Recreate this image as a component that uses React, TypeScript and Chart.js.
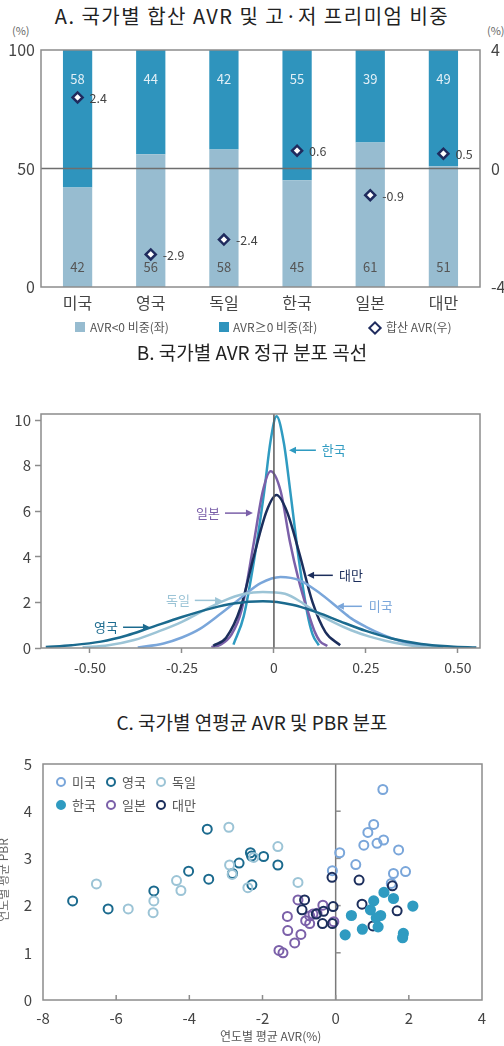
import React, { useEffect, useRef } from "react";
import { Chart, registerables } from "chart.js";

Chart.register(...registerables);

const FONT = '"Noto Sans CJK KR", "Noto Sans", sans-serif';
Chart.defaults.font.family = FONT;
Chart.defaults.color = "#555";

// ---------------- Panel A data ----------------
const countries = ["미국", "영국", "독일", "한국", "일본", "대만"];
const negShare = [42, 56, 58, 45, 61, 51];
const posShare = [58, 44, 42, 55, 39, 49];
const combinedAvr = [2.4, -2.9, -2.4, 0.6, -0.9, 0.5];
const shareTicks = [0, 50, 100];
const avrTicks = [-4, 0, 4];

// ---------------- Panel B data ----------------
const densityXTicks = [-0.5, -0.25, 0, 0.25, 0.5];
const densityYTicks = [0, 2, 4, 6, 8, 10];
const curveUK: [number, number][] = [
  [-0.62, 0.04], [-0.55, 0.12], [-0.47, 0.28], [-0.4, 0.55], [-0.34, 0.87], [-0.25, 1.36],
  [-0.17, 1.74], [-0.11, 1.95], [-0.03, 2.05], [0.05, 1.9], [0.12, 1.55], [0.18, 1.17],
  [0.25, 0.75], [0.32, 0.42], [0.4, 0.18], [0.48, 0.07], [0.55, 0.02],
];
const curveDE: [number, number][] = [
  [-0.52, 0.03], [-0.45, 0.12], [-0.38, 0.35], [-0.31, 0.75], [-0.25, 1.15], [-0.19, 1.65],
  [-0.14, 2.05], [-0.08, 2.38], [-0.03, 2.46], [0.03, 2.38], [0.08, 1.95], [0.12, 1.5],
  [0.16, 1.15], [0.21, 0.78], [0.26, 0.5], [0.3, 0.33], [0.35, 0.16], [0.39, 0.07], [0.46, 0.02],
];
const curveUS: [number, number][] = [
  [-0.37, 0.02], [-0.3, 0.2], [-0.25, 0.46], [-0.2, 0.85], [-0.145, 1.5], [-0.09, 2.2],
  [-0.036, 2.85], [0.018, 3.12], [0.07, 2.97], [0.125, 2.4], [0.175, 1.75], [0.21, 1.3],
  [0.25, 0.93], [0.3, 0.55], [0.34, 0.32], [0.38, 0.15], [0.42, 0.05],
];
const curveTW: [number, number][] = [
  [-0.165, 0.1], [-0.13, 0.45], [-0.09, 1.8], [-0.055, 4.0], [-0.02, 6.0], [0.007, 6.71],
  [0.035, 6.0], [0.07, 4.1], [0.105, 2.0], [0.14, 0.7], [0.18, 0.12],
];
const curveJP: [number, number][] = [
  [-0.17, 0.04], [-0.145, 0.15], [-0.115, 0.6], [-0.088, 1.66], [-0.056, 4.5], [-0.03, 6.9],
  [-0.009, 7.76], [0.018, 6.9], [0.043, 4.7], [0.067, 3.0], [0.091, 1.66], [0.11, 0.75],
  [0.125, 0.3], [0.145, 0.09],
];
const curveKR: [number, number][] = [
  [-0.11, 0.15], [-0.082, 1.4], [-0.054, 3.85], [-0.027, 6.8], [-0.009, 9.1], [0.007, 10.17],
  [0.027, 9.0], [0.045, 6.8], [0.068, 3.85], [0.091, 1.5], [0.105, 0.6], [0.122, 0.12],
];

// ---------------- Panel C data ----------------
const scatterUS: [number, number][] = [
  [1.29, 4.46], [1.04, 3.72], [0.88, 3.55], [0.77, 3.28], [1.13, 3.32], [1.31, 3.39], [1.72, 3.18],
  [0.11, 3.12], [0.55, 2.87], [-0.09, 2.74], [1.58, 2.68], [1.91, 2.72], [1.52, 2.47],
];
const scatterUK: [number, number][] = [
  [-7.19, 2.1], [-6.22, 1.93], [-4.97, 2.31], [-4.02, 2.73], [-3.51, 3.62], [-3.47, 2.56], [-2.82, 2.68],
  [-2.64, 2.9], [-2.33, 3.12], [-2.3, 3.05], [-1.97, 3.04], [-1.58, 2.86], [-2.29, 2.44],
];
const scatterDE: [number, number][] = [
  [-6.54, 2.46], [-5.67, 1.93], [-4.97, 2.1], [-4.99, 1.85], [-4.35, 2.53], [-4.23, 2.32], [-2.92, 3.66],
  [-2.9, 2.86], [-2.83, 2.66], [-2.4, 2.38], [-2.24, 3.02], [-1.58, 3.25], [-1.03, 2.49],
];
const scatterKR: [number, number][] = [
  [1.32, 2.28], [1.58, 2.15], [1.04, 2.1], [2.11, 1.99], [0.95, 1.91], [0.43, 1.79], [1.23, 1.79],
  [1.11, 1.74], [1.16, 1.55], [0.73, 1.5], [0.26, 1.38], [1.85, 1.41], [1.83, 1.32],
];
const scatterJP: [number, number][] = [
  [-1.03, 2.12], [-1.32, 1.77], [-1.31, 1.47], [-0.95, 1.39], [-1.12, 1.21], [-1.55, 1.05], [-1.44, 1.0],
  [-0.82, 1.68], [-0.71, 1.78], [-0.71, 1.62], [-0.62, 1.82], [-0.51, 1.84], [-0.35, 2.01], [-0.05, 1.66],
];
const scatterTW: [number, number][] = [
  [-0.85, 2.12], [-0.92, 1.91], [-0.53, 1.82], [-0.33, 1.88], [-0.36, 1.62], [-0.07, 1.98], [-0.09, 1.62],
  [-0.1, 2.6], [0.64, 2.54], [1.55, 2.42], [0.72, 2.03], [1.68, 1.89], [1.02, 1.57],
];

// ---------------- styles ----------------
const C_NEG = "#97bcd0";
const C_POS = "#2f94bd";
const C_DIAMOND = "#1f2b5e";
const C_US = "#7aa6da";
const C_UK = "#1b6a8e";
const C_DE = "#9cc4d6";
const C_KR = "#2f9bc1";
const C_JP = "#7b60a9";
const C_TW = "#1c2e5c";
const FRAME = "#8c8c8c";

const curveLabels = [
  { text: "한국", color: C_KR, tx: 0.13, ty: 8.68, align: "left", from: 0.114, to: 0.041 },
  { text: "일본", color: C_JP, tx: -0.147, ty: 5.92, align: "right", from: -0.133, to: -0.057 },
  { text: "대만", color: C_TW, tx: 0.177, ty: 3.19, align: "left", from: 0.16, to: 0.09 },
  { text: "미국", color: C_US, tx: 0.258, ty: 1.83, align: "left", from: 0.239, to: 0.171 },
  { text: "독일", color: C_DE, tx: -0.228, ty: 2.09, align: "right", from: -0.215, to: -0.141 },
  { text: "영국", color: C_UK, tx: -0.424, ty: 0.91, align: "right", from: -0.41, to: -0.337 },
];

const noPad = (s: any) => {
  s.paddingTop = 0;
  s.paddingBottom = 0;
  s.paddingLeft = 0;
  s.paddingRight = 0;
};

const frame = {
  id: "frame",
  afterDraw(chart: any) {
    const { left, top, right, bottom } = chart.chartArea;
    const ctx = chart.ctx;
    ctx.save();
    ctx.strokeStyle = FRAME;
    ctx.lineWidth = 1.5;
    ctx.strokeRect(left, top, right - left, bottom - top);
    ctx.restore();
  },
};

function makeA(canvas: HTMLCanvasElement) {
  const labelsPlugin = {
    id: "aLabels",
    afterDatasetsDraw(chart: any) {
      const ctx = chart.ctx;
      const { left, right, top, bottom } = chart.chartArea;
      const y = chart.scales.y;
      ctx.save();
      const y50 = y.getPixelForValue(50);
      ctx.strokeStyle = "#6e6e6e";
      ctx.lineWidth = 1.5;
      ctx.beginPath();
      ctx.moveTo(left, y50);
      ctx.lineTo(right, y50);
      ctx.stroke();
      ctx.font = `13px ${FONT}`;
      ctx.textAlign = "center";
      ctx.textBaseline = "middle";
      chart.getDatasetMeta(1).data.forEach((el: any, i: number) => {
        ctx.fillStyle = "#555";
        ctx.fillText(String(negShare[i]), el.x, bottom - 20);
      });
      chart.getDatasetMeta(2).data.forEach((el: any, i: number) => {
        ctx.fillStyle = "#e2eff6";
        ctx.fillText(String(posShare[i]), el.x, top + 29);
      });
      ctx.textAlign = "left";
      ctx.fillStyle = "#444";
      ctx.font = `12.5px ${FONT}`;
      chart.getDatasetMeta(0).data.forEach((el: any, i: number) => {
        ctx.fillText(combinedAvr[i].toFixed(1), el.x + 12, el.y + 1);
      });
      ctx.restore();
    },
  };
  return new Chart(canvas, {
    type: "bar",
    data: {
      labels: countries,
      datasets: [
        {
          type: "line",
          label: "합산 AVR(우)",
          data: combinedAvr,
          yAxisID: "y1",
          showLine: false,
          pointStyle: "rectRot",
          pointRadius: 5,
          pointBorderWidth: 2.5,
          pointBackgroundColor: "#fff",
          pointBorderColor: C_DIAMOND,
          order: 0,
        } as any,
        {
          label: "AVR<0 비중(좌)",
          data: negShare,
          backgroundColor: C_NEG,
          yAxisID: "y",
          stack: "s",
          barPercentage: 0.4,
          categoryPercentage: 1,
          order: 1,
        },
        {
          label: "AVR≥0 비중(좌)",
          data: posShare,
          backgroundColor: C_POS,
          yAxisID: "y",
          stack: "s",
          barPercentage: 0.4,
          categoryPercentage: 1,
          order: 2,
        },
      ],
    },
    options: {
      animation: false,
      responsive: false,
      maintainAspectRatio: false,
      layout: { padding: { top: 10, left: 0, right: 0, bottom: 0 } },
      plugins: { legend: { display: false }, tooltip: { enabled: false } },
      scales: {
        x: {
          stacked: true,
          grid: { display: false, drawTicks: false },
          border: { display: false },
          ticks: { padding: 6, font: { size: 16 }, color: "#444" },
          afterFit: (s: any) => { s.height = 33; noPad(s); },
        },
        y: {
          stacked: true,
          min: 0,
          max: 100,
          afterBuildTicks: (s: any) => { s.ticks = shareTicks.map((v) => ({ value: v })); },
          grid: { display: false, drawTicks: false },
          border: { display: false },
          ticks: { padding: 6, font: { size: 16 }, color: "#444" },
          afterFit: (s: any) => { s.width = 41; noPad(s); },
        },
        y1: {
          position: "right",
          min: -4,
          max: 4,
          afterBuildTicks: (s: any) => { s.ticks = avrTicks.map((v) => ({ value: v })); },
          grid: { display: false, drawTicks: false },
          border: { display: false },
          ticks: { padding: 11, font: { size: 16 }, color: "#444" },
          afterFit: (s: any) => { s.width = 24; noPad(s); },
        },
      },
    } as any,
    plugins: [labelsPlugin, frame],
  });
}

function makeB(canvas: HTMLCanvasElement) {
  const curves = [
    { name: "영국", pts: curveUK, color: C_UK },
    { name: "독일", pts: curveDE, color: C_DE },
    { name: "미국", pts: curveUS, color: C_US },
    { name: "대만", pts: curveTW, color: C_TW },
    { name: "일본", pts: curveJP, color: C_JP },
    { name: "한국", pts: curveKR, color: C_KR },
  ];
  const annot = {
    id: "annot",
    afterDatasetsDraw(chart: any) {
      const ctx = chart.ctx;
      const xs = chart.scales.x;
      const ys = chart.scales.y;
      const { top, bottom } = chart.chartArea;
      ctx.save();
      const x0 = xs.getPixelForValue(0);
      ctx.strokeStyle = "#5a5a5a";
      ctx.lineWidth = 1.5;
      ctx.beginPath();
      ctx.moveTo(x0, top);
      ctx.lineTo(x0, bottom);
      ctx.stroke();
      ctx.font = `13px ${FONT}`;
      ctx.textBaseline = "middle";
      curveLabels.forEach((l) => {
        const py = ys.getPixelForValue(l.ty);
        ctx.fillStyle = l.color;
        ctx.textAlign = l.align as CanvasTextAlign;
        ctx.fillText(l.text, xs.getPixelForValue(l.tx), py);
        const a = xs.getPixelForValue(l.from);
        const b = xs.getPixelForValue(l.to);
        const dir = b > a ? 1 : -1;
        ctx.strokeStyle = l.color;
        ctx.lineWidth = 1.5;
        ctx.beginPath();
        ctx.moveTo(a, py);
        ctx.lineTo(b - dir * 4, py);
        ctx.stroke();
        ctx.beginPath();
        ctx.moveTo(b, py);
        ctx.lineTo(b - dir * 7, py - 3.5);
        ctx.lineTo(b - dir * 7, py + 3.5);
        ctx.closePath();
        ctx.fill();
      });
      ctx.restore();
    },
  };
  return new Chart(canvas, {
    type: "line",
    data: {
      datasets: curves.map((c) => ({
        label: c.name,
        data: c.pts.map(([x, y]) => ({ x, y })),
        borderColor: c.color,
        borderWidth: 2.5,
        pointRadius: 0,
        fill: false,
        cubicInterpolationMode: "monotone",
      })) as any,
    },
    options: {
      animation: false,
      responsive: false,
      maintainAspectRatio: false,
      layout: { padding: { top: 9, right: 24, left: 0, bottom: 0 } },
      plugins: { legend: { display: false }, tooltip: { enabled: false } },
      scales: {
        x: {
          type: "linear",
          min: -0.633,
          max: 0.56,
          afterBuildTicks: (s: any) => { s.ticks = densityXTicks.map((v) => ({ value: v })); },
          grid: { drawOnChartArea: false, tickLength: 5, tickColor: FRAME, tickWidth: 1.5 },
          border: { display: false },
          ticks: {
            padding: 6,
            font: { size: 14 },
            color: "#444",
            callback: (v: any) => (Number(v) === 0 ? "0" : Number(v).toFixed(2)),
          },
          afterFit: (s: any) => { s.height = 32; noPad(s); },
        },
        y: {
          min: 0,
          max: 10.27,
          afterBuildTicks: (s: any) => { s.ticks = densityYTicks.map((v) => ({ value: v })); },
          grid: { drawOnChartArea: false, tickLength: 6, tickColor: FRAME, tickWidth: 1.5 },
          border: { display: false },
          ticks: { padding: 4, font: { size: 15 }, color: "#444" },
          afterFit: (s: any) => { s.width = 41; noPad(s); },
        },
      },
    } as any,
    plugins: [annot, frame],
  });
}

function makeC(canvas: HTMLCanvasElement) {
  const sets = [
    { name: "한국", pts: scatterKR, color: C_KR, filled: true, order: 0 },
    { name: "대만", pts: scatterTW, color: C_TW, filled: false, order: 1 },
    { name: "일본", pts: scatterJP, color: C_JP, filled: false, order: 2 },
    { name: "미국", pts: scatterUS, color: C_US, filled: false, order: 3 },
    { name: "독일", pts: scatterDE, color: C_DE, filled: false, order: 4 },
    { name: "영국", pts: scatterUK, color: C_UK, filled: false, order: 5 },
  ];
  const zero = {
    id: "zero",
    beforeDatasetsDraw(chart: any) {
      const ctx = chart.ctx;
      const xs = chart.scales.x;
      const ys = chart.scales.y;
      const { top, bottom } = chart.chartArea;
      const x0 = xs.getPixelForValue(0);
      ctx.save();
      ctx.strokeStyle = "#7a7a7a";
      ctx.lineWidth = 1.5;
      ctx.beginPath();
      ctx.moveTo(x0, top);
      ctx.lineTo(x0, bottom);
      ctx.stroke();
      ctx.strokeStyle = FRAME;
      ys.ticks.forEach((t: any) => {
        if (t.value <= 0 || t.value >= 5) return;
        const py = ys.getPixelForValue(t.value);
        ctx.beginPath();
        ctx.moveTo(x0, py);
        ctx.lineTo(x0 + 5, py);
        ctx.stroke();
      });
      xs.ticks.forEach((t: any) => {
        if (t.value <= -8 || t.value >= 4) return;
        const px = xs.getPixelForValue(t.value);
        ctx.beginPath();
        ctx.moveTo(px, bottom);
        ctx.lineTo(px, bottom - 5);
        ctx.stroke();
      });
      ctx.restore();
    },
  };
  return new Chart(canvas, {
    type: "scatter",
    data: {
      datasets: sets.map((s) => ({
        label: s.name,
        data: s.pts.map(([x, y]) => ({ x, y })),
        borderColor: s.color,
        backgroundColor: s.filled ? s.color : "rgba(255,255,255,0)",
        pointRadius: s.filled ? 4.6 : 4.5,
        pointBorderWidth: 2,
        order: s.order,
      })) as any,
    },
    options: {
      animation: false,
      responsive: false,
      maintainAspectRatio: false,
      layout: { padding: { top: 14, right: 22, left: 0, bottom: 0 } },
      plugins: { legend: { display: false }, tooltip: { enabled: false } },
      scales: {
        x: {
          type: "linear",
          min: -8,
          max: 4,
          ticks: { stepSize: 2, padding: 9, font: { size: 15 }, color: "#444" },
          grid: { display: false, drawTicks: false },
          border: { display: false },
          afterFit: (s: any) => { s.height = 46; noPad(s); },
        },
        y: {
          min: 0,
          max: 5,
          ticks: { stepSize: 1, padding: 11, font: { size: 15 }, color: "#444" },
          grid: { display: false, drawTicks: false },
          border: { display: false },
          afterFit: (s: any) => { s.width = 43; noPad(s); },
        },
      },
    } as any,
    plugins: [zero, frame],
  });
}

function ChartCanvas({ top, height, make }: { top: number; height: number; make: (c: HTMLCanvasElement) => Chart }) {
  const ref = useRef<HTMLCanvasElement>(null);
  useEffect(() => {
    const chart = make(ref.current as HTMLCanvasElement);
    return () => chart.destroy();
  }, []);
  return (
    <canvas
      ref={ref}
      width={504}
      height={height}
      style={{ position: "absolute", left: 0, top, width: 504, height, display: "block" }}
    />
  );
}

const textBase: React.CSSProperties = { position: "absolute", fontFamily: FONT, whiteSpace: "nowrap" };

function Title({ y, text, size = 19, spacing = 0 }: { y: number; text: string; size?: number; spacing?: number }) {
  return (
    <div
      style={{
        ...textBase,
        left: 0,
        width: 504,
        top: y - 12,
        height: 24,
        lineHeight: "24px",
        textAlign: "center",
        fontSize: size,
        letterSpacing: spacing,
        color: "#222",
      }}
    >
      {text}
    </div>
  );
}

function Label({ x, y, text, size = 12, color = "#555" }: { x: number; y: number; text: string; size?: number; color?: string }) {
  return (
    <div style={{ ...textBase, left: x, top: y - 10, height: 20, lineHeight: "20px", fontSize: size, color }}>{text}</div>
  );
}

function Circle({ x, y, color, filled }: { x: number; y: number; color: string; filled: boolean }) {
  return (
    <div
      style={{
        position: "absolute",
        left: x - 5,
        top: y - 5,
        width: 6,
        height: 6,
        borderRadius: "50%",
        border: `2px solid ${color}`,
        background: filled ? color : "transparent",
      }}
    />
  );
}

export default function App() {
  return (
    <div style={{ position: "absolute", left: 0, top: 0, width: 504, height: 1046, background: "#fff", overflow: "hidden" }}>
      <Title y={16} text="A. 국가별 합산 AVR 및 고·저 프리미엄 비중" size={20} spacing={1.5} />
      <Label x={12} y={30} text="(%)" size={11} color="#666" />
      <Label x={487} y={30} text="(%)" size={11} color="#666" />
      <ChartCanvas top={40} height={280} make={makeA} />
      <div style={{ position: "absolute", left: 75, top: 322, width: 10, height: 10, background: C_NEG }} />
      <Label x={90} y={327} text="AVR<0 비중(좌)" />
      <div style={{ position: "absolute", left: 219, top: 322, width: 10, height: 10, background: C_POS }} />
      <Label x={233} y={327} text="AVR≥0 비중(좌)" />
      <div
        style={{
          position: "absolute",
          left: 370,
          top: 322.5,
          width: 6,
          height: 6,
          border: `2px solid ${C_DIAMOND}`,
          background: "#fff",
          transform: "rotate(45deg)",
        }}
      />
      <Label x={386} y={327} text="합산 AVR(우)" />

      <Title y={352} text="B. 국가별 AVR 정규 분포 곡선" />
      <ChartCanvas top={405} height={275} make={makeB} />

      <Title y={722} text="C. 국가별 연평균 AVR 및 PBR 분포" />
      <ChartCanvas top={750} height={296} make={makeC} />
      <Circle x={61} y={782} color={C_US} filled={false} />
      <Label x={72} y={782} text="미국" size={13} />
      <Circle x={111} y={782} color={C_UK} filled={false} />
      <Label x={122} y={782} text="영국" size={13} />
      <Circle x={161} y={782} color={C_DE} filled={false} />
      <Label x={172} y={782} text="독일" size={13} />
      <Circle x={61} y={805} color={C_KR} filled={true} />
      <Label x={72} y={805} text="한국" size={13} />
      <Circle x={111} y={805} color={C_JP} filled={false} />
      <Label x={122} y={805} text="일본" size={13} />
      <Circle x={161} y={805} color={C_TW} filled={false} />
      <Label x={172} y={805} text="대만" size={13} />
      <div style={{ ...textBase, left: 220, top: 1026, height: 20, lineHeight: "20px", fontSize: 12, color: "#555", width: 92, textAlign: "center" }}>
        연도별 평균 AVR(%)
      </div>
      <div
        style={{
          ...textBase,
          left: 3 - 50,
          top: 880 - 10,
          width: 100,
          height: 20,
          lineHeight: "20px",
          fontSize: 12,
          color: "#666",
          textAlign: "center",
          transform: "rotate(-90deg)",
        }}
      >
        연도별 평균 PBR
      </div>
    </div>
  );
}
